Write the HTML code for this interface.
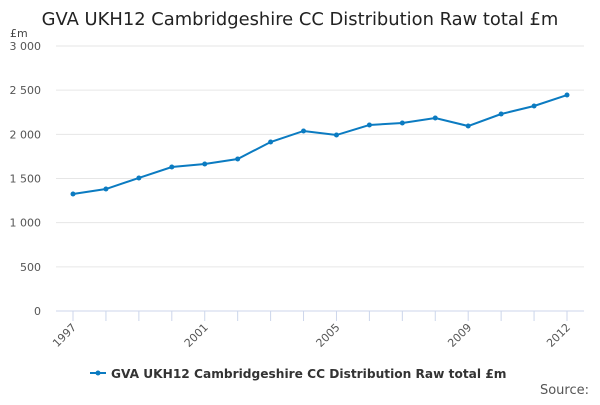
<!DOCTYPE html>
<html><head><meta charset="utf-8"><style>
body{margin:0;background:#fff;font-family:"Liberation Sans","DejaVu Sans",sans-serif;}
svg text{font-family:"DejaVu Sans","Liberation Sans",sans-serif;}
</style></head><body>
<svg id="c" width="600" height="400" xmlns="http://www.w3.org/2000/svg">
<text x="300" y="25" text-anchor="middle" font-size="17.9" fill="#222">GVA UKH12 Cambridgeshire CC Distribution Raw total £m</text>
<text x="10" y="37" font-size="11" fill="#444">£m</text>
<g id="grid"></g><g id="xa"></g><g id="series"></g>
<g>
<line x1="90" y1="373" x2="106" y2="373" stroke="#0b7bc1" stroke-width="2"/>
<circle cx="98" cy="373" r="2.5" fill="#0b7bc1"/>
<text x="111" y="378" font-size="12.2" font-weight="bold" fill="#333">GVA UKH12 Cambridgeshire CC Distribution Raw total £m</text>
</g>
<text x="589" y="394" text-anchor="end" font-size="13" fill="#555">Source:</text>
</svg>
<script>
const years=[1997,1998,1999,2000,2001,2002,2003,2004,2005,2006,2007,2008,2009,2010,2011,2012];
const values=[1325,1381,1506,1630,1664,1721,1913,2038,1992,2106,2128,2185,2094,2230,2321,2445];
const yTicks=[0,500,1000,1500,2000,2500,3000];
const yTickLabels=["0","500","1 000","1 500","2 000","2 500","3 000"];
const xLabels=[1997,2001,2005,2009,2012];
const NS="http://www.w3.org/2000/svg";
function X(yr){return 73+(yr-1997)*(494/15);}
function Y(v){return 311-v*265/3000;}
function mk(t,a,p){const e=document.createElementNS(NS,t);for(const k in a)e.setAttribute(k,a[k]);p.appendChild(e);return e;}
const g=document.getElementById('grid');
yTicks.forEach((v,i)=>{
 const l=mk('line',{x1:56,x2:584,y1:Y(v),y2:Y(v),stroke:v===0?'#ccd6eb':'#e6e6e6'},g);
 
 
 const t=mk('text',{x:41,y:Y(v)+4,'text-anchor':'end','font-size':11,fill:'#555'},g);
 t.textContent=yTickLabels[i];
 
 
});
const xa=document.getElementById('xa');
years.forEach(yr=>{
 const l=mk('line',{x1:X(yr),x2:X(yr),y1:311,y2:321,stroke:'#ccd6eb'},xa);
 
 
});
xLabels.forEach(yr=>{
 const t=mk('text',{x:X(yr)+4,y:328,'text-anchor':'end','font-size':11,fill:'#555',transform:`rotate(-45 ${X(yr)+4} 328)`},xa);
 t.textContent=yr;
 
 
});
const s=document.getElementById('series');
const p=mk('polyline',{points:years.map((yr,i)=>X(yr)+','+Y(values[i])).join(' '),fill:'none',stroke:'#0b7bc1','stroke-width':2},s);


years.forEach((yr,i)=>{
 const c=mk('circle',{cx:X(yr),cy:Y(values[i]),r:2.5,fill:'#0b7bc1'},s);
 
 
});
</script>
</body></html>
